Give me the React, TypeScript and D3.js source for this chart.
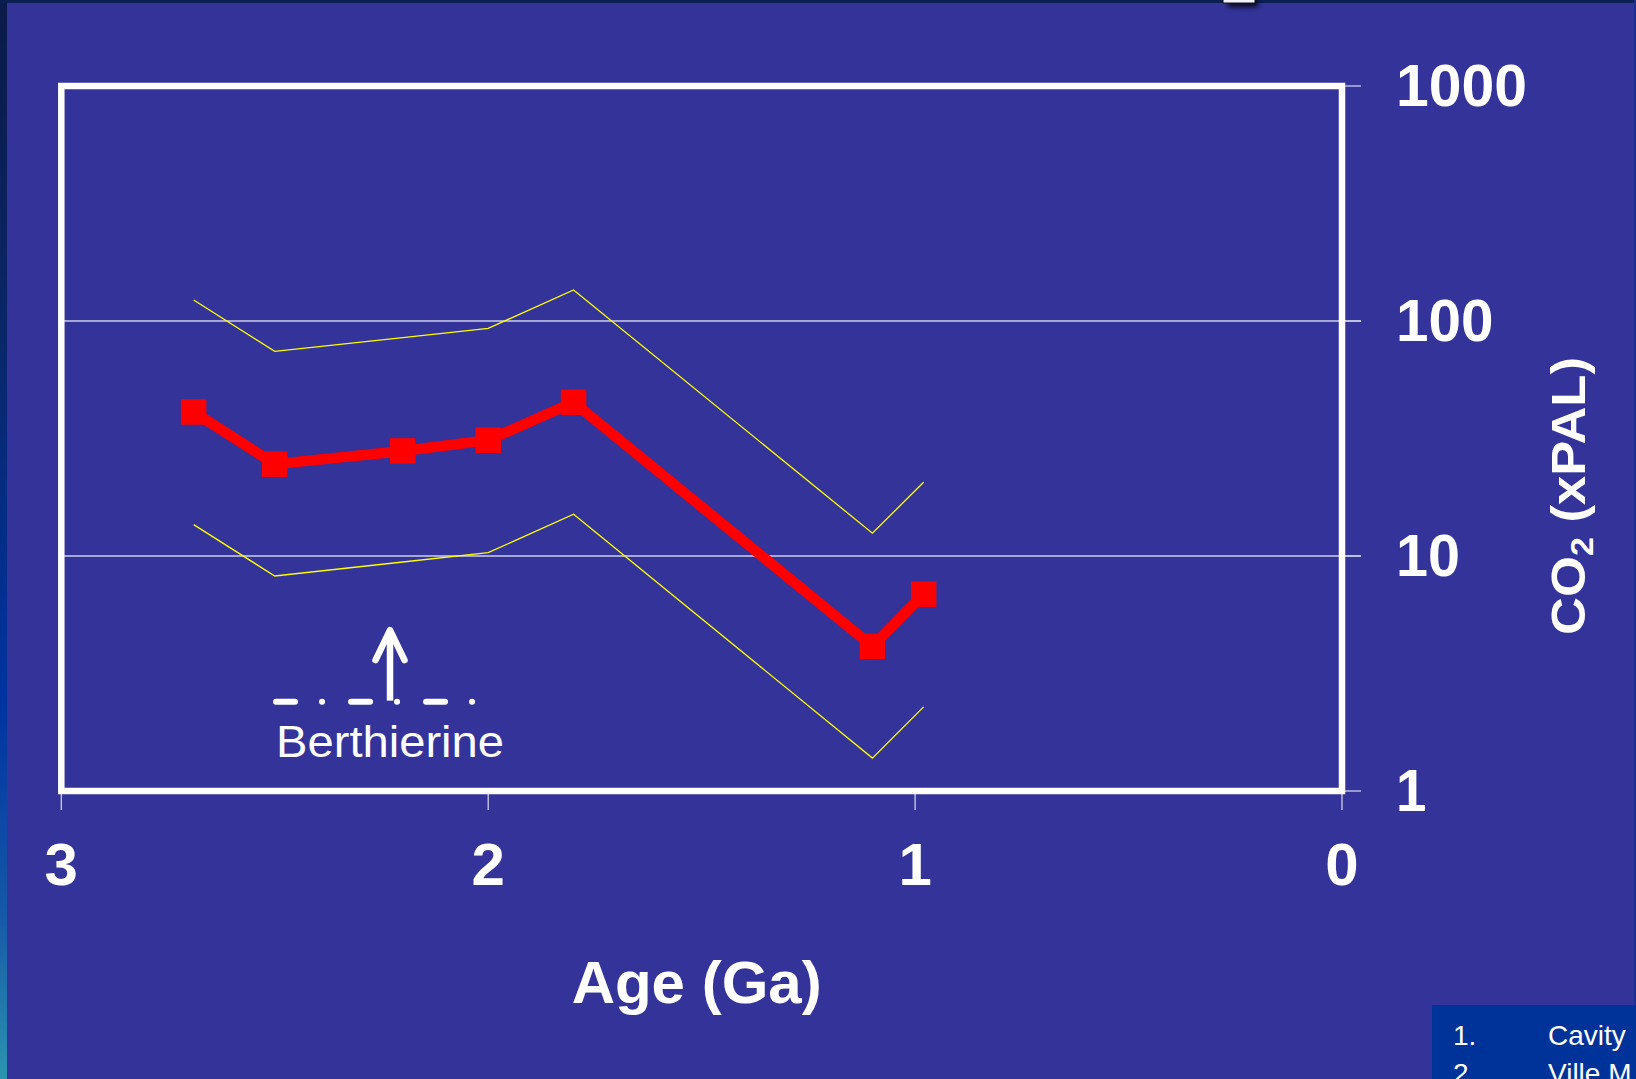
import React from "react";
import * as d3 from "d3";

// ---- data ----
const ages = [2.69, 2.5, 2.2, 2.0, 1.8, 1.1, 0.98];
const co2Best = [41.0, 24.6, 28.0, 31.1, 45.1, 4.13, 6.88];
const co2Upper = [122.9, 74.3, 85.0, 93.1, 135.5, 12.5, 20.6];
const co2Lower = [13.6, 8.22, 9.43, 10.33, 15.05, 1.38, 2.28];
const xTicks = [3, 2, 1, 0];
const yTicks = [1, 10, 100, 1000];
const gridValues = [10, 100];
const yTickLabels = ["1", "10", "100", "1000"];
const xTickLabels = ["3", "2", "1", "0"];

// Berthierine annotation (data coordinates)
const berthAge = 2.23;
const berthDashStart = 2.497;
const berthDashEnd = 2.032;
const berthLevel = 2.4;
const berthTip = 4.84;
const berthTextLevel = 1.395;

const W = 1636;
const H = 1079;
const FONT = "'Liberation Sans', Arial, Helvetica, sans-serif";
const BG = "#333399";

export default function App() {
  const x = d3.scaleLinear().domain([3, 0]).range([61.3, 1342]);
  const y = d3.scaleLog().domain([1, 1000]).range([791, 86]);

  const pts = (vals: number[]) => ages.map((a, i) => [a, vals[i]] as [number, number]);
  const line = d3
    .line<[number, number]>()
    .x((d) => x(d[0]))
    .y((d) => y(d[1]));

  const [x0, x1] = x.range();
  const [yb, yt] = y.range();
  const tickEnd = x1 + 19;
  const ms = 25.5;

  const ax = x(berthAge);
  const ay = y(berthLevel);
  const atip = y(berthTip);

  return (
    <svg
      width={W}
      height={H}
      viewBox={`0 0 ${W} ${H}`}
      style={{ position: "absolute", left: 0, top: 0, display: "block" }}
    >
      <defs>
        <linearGradient id="leftStrip" x1="0" y1="0" x2="0" y2="1">
          <stop offset="0" stopColor="#0b1a48" />
          <stop offset="0.3" stopColor="#0a2668" />
          <stop offset="0.65" stopColor="#0033a0" />
          <stop offset="0.85" stopColor="#1659a8" />
          <stop offset="1" stopColor="#2b94b0" />
        </linearGradient>
        <filter id="shadow" x="-50%" y="-50%" width="200%" height="300%">
          <feGaussianBlur stdDeviation="2.5" />
        </filter>
      </defs>

      {/* background */}
      <rect x={0} y={0} width={W} height={H} fill={BG} />
      <rect x={0} y={0} width={7} height={H} fill="url(#leftStrip)" />
      <rect x={0} y={0} width={W} height={3} fill="#0c1f52" />
      <rect x={W - 2} y={0} width={2} height={H} fill="#1a2f8f" />

      {/* cut-off box at the top */}
      <rect x={1228} y={0} width={30} height={7} fill="#000" opacity={0.8} filter="url(#shadow)" />
      <rect x={1223} y={-3} width={32} height={6} fill="#f4f4ff" stroke="#111" strokeWidth={1} />

      {/* gridlines */}
      {gridValues.map((v) => (
        <line key={`g${v}`} x1={x0} x2={tickEnd} y1={y(v)} y2={y(v)} stroke="#cfcfea" strokeWidth={1.3} />
      ))}

      {/* y ticks (right) */}
      {yTicks.map((v) => (
        <line key={`yt${v}`} x1={x1} x2={tickEnd} y1={y(v)} y2={y(v)} stroke="#cfcfea" strokeWidth={1.3} />
      ))}
      {/* x ticks */}
      {xTicks.map((v) => (
        <line key={`xt${v}`} x1={x(v)} x2={x(v)} y1={yb + 3} y2={yb + 19} stroke="#cfcfea" strokeWidth={1.3} />
      ))}

      {/* frame */}
      <rect x={x0} y={yt} width={x1 - x0} height={yb - yt} fill="none" stroke="#ffffff" strokeWidth={6.5} />

      {/* range lines */}
      <path d={line(pts(co2Upper)) || ""} fill="none" stroke="#ffff00" strokeWidth={1.3} />
      <path d={line(pts(co2Lower)) || ""} fill="none" stroke="#ffff00" strokeWidth={1.3} />

      {/* best estimate */}
      <path d={line(pts(co2Best)) || ""} fill="none" stroke="#ff0000" strokeWidth={10.5} strokeLinejoin="miter" />
      {pts(co2Best).map((d, i) => (
        <rect key={`m${i}`} x={x(d[0]) - ms / 2} y={y(d[1]) - ms / 2} width={ms} height={ms} fill="#ff0000" />
      ))}

      {/* Berthierine annotation */}
      <line
        x1={x(berthDashStart)}
        x2={x(berthDashEnd)}
        y1={ay}
        y2={ay}
        stroke="#ffffff"
        strokeWidth={6}
        strokeLinecap="round"
        strokeDasharray="19 27 0.01 29"
      />
      <line x1={ax} x2={ax} y1={ay - 1} y2={atip + 2} stroke="#ffffff" strokeWidth={6.5} />
      <polyline
        points={`${ax - 14.5},${atip + 30} ${ax},${atip} ${ax + 14.5},${atip + 30}`}
        fill="none"
        stroke="#ffffff"
        strokeWidth={6.5}
        strokeLinecap="round"
        strokeLinejoin="round"
      />
      <text x={x(berthDashStart)} y={y(berthTextLevel)} fill="#ffffff" fontFamily={FONT} fontSize={45} textLength={228} lengthAdjust="spacingAndGlyphs">
        Berthierine
      </text>

      {/* x tick labels */}
      {xTicks.map((v, i) => (
        <text
          key={`xl${v}`}
          x={x(v)}
          y={885}
          fill="#ffffff"
          fontFamily={FONT}
          fontWeight="bold"
          fontSize={60}
          textAnchor="middle"
        >
          {xTickLabels[i]}
        </text>
      ))}

      {/* y tick labels */}
      {yTicks.map((v, i) => (
        <text
          key={`yl${v}`}
          x={1396}
          y={y(v) + 20}
          fill="#ffffff"
          fontFamily={FONT}
          fontWeight="bold"
          fontSize={59}
          textLength={yTickLabels[i].length * 33.5 - 3}
          lengthAdjust="spacingAndGlyphs"
        >
          {yTickLabels[i]}
        </text>
      ))}

      {/* axis titles */}
      <text x={(x0 + x1) / 2 - 5} y={1003} fill="#ffffff" fontFamily={FONT} fontWeight="bold" fontSize={60} textAnchor="middle">
        Age (Ga)
      </text>
      <text
        transform={`translate(1585, 496) rotate(-90)`}
        fill="#ffffff"
        fontFamily={FONT}
        fontWeight="bold"
        fontSize={48}
        textAnchor="middle"
        textLength={278}
        lengthAdjust="spacingAndGlyphs"
      >
        CO<tspan fontSize={31} dy={8}>2</tspan>
        <tspan dy={-8}> (xPAL)</tspan>
      </text>

      {/* reference box, bottom right (cut off by the page edge, as in the reference) */}
      <rect x={1432} y={1005} width={W - 1432} height={H - 1005} fill="#003399" />
      <text x={1453} y={1045} fill="#ffffff" fontFamily={FONT} fontSize={28}>1.</text>
      <text x={1548} y={1045} fill="#ffffff" fontFamily={FONT} fontSize={28}>Cavity</text>
      <text x={1453} y={1083} fill="#ffffff" fontFamily={FONT} fontSize={28}>2.</text>
      <text x={1548} y={1083} fill="#ffffff" fontFamily={FONT} fontSize={28}>Ville M</text>
    </svg>
  );
}
